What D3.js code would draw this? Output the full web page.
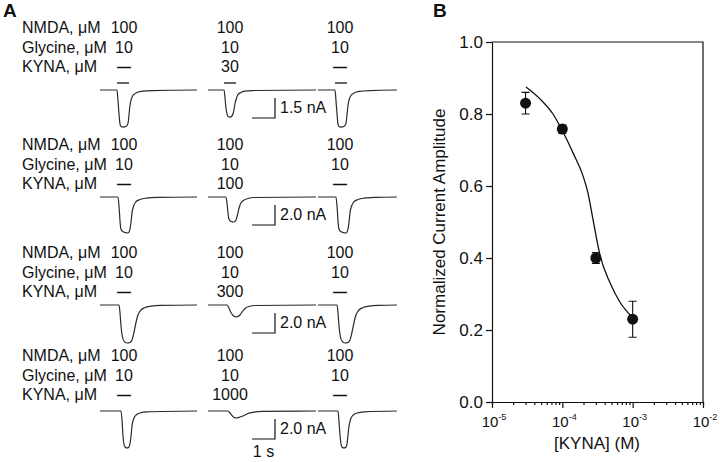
<!DOCTYPE html>
<html><head><meta charset="utf-8">
<script src="https://cdn.jsdelivr.net/npm/d3@7"></script>
<style>html,body{margin:0;padding:0;background:#fff;}svg{display:block;font-family:Arial,"Liberation Sans",Helvetica,sans-serif;}</style>
</head><body>
<svg id="fig" width="720" height="462"></svg>
<script>
// ---------------- Panel A data ----------------
const solutionLabels = ["NMDA, μM", "Glycine, μM", "KYNA, μM"];
const nmdaConc    = [[100,100,100],[100,100,100],[100,100,100],[100,100,100]];
const glycineConc = [[10,10,10],[10,10,10],[10,10,10],[10,10,10]];
const kynaConc    = [[null,30,null],[null,100,null],[null,300,null],[null,1000,null]];
const scaleBarNA  = [1.5, 2.0, 2.0, 2.0];
const scaleBarSec = 1;
const appOnsetSec = [0.74, 0.70, 0.74];   // application bars, first row
const appDurSec   = 0.52;

// traces: [time (s) from sweep start, current (nA)]
const trace_r1c1 = [[0,0],[0.74,0],[0.78,-0.75],[0.83,-1.88],[0.87,-2.55],[0.91,-2.74],[1.00,-2.78],[1.13,-2.74],[1.22,-2.48],[1.26,-1.88],[1.30,-1.20],[1.35,-0.75],[1.43,-0.41],[1.57,-0.23],[1.78,-0.11],[2.26,-0.04],[4.22,0]];
const trace_r1c2 = [[0,0],[0.70,0],[0.74,-0.60],[0.78,-1.35],[0.83,-1.80],[0.87,-1.99],[0.96,-2.03],[1.04,-1.95],[1.11,-1.65],[1.17,-1.05],[1.24,-0.60],[1.30,-0.34],[1.43,-0.19],[1.61,-0.09],[1.91,-0.04],[4.70,0]];
const trace_r1c3 = [[0,0],[0.74,0],[0.78,-0.75],[0.83,-1.88],[0.87,-2.55],[0.91,-2.74],[1.00,-2.78],[1.13,-2.74],[1.22,-2.48],[1.26,-1.88],[1.30,-1.20],[1.35,-0.75],[1.43,-0.41],[1.57,-0.23],[1.78,-0.11],[2.26,-0.04],[3.43,0]];
const trace_r2c1 = [[0,0],[0.78,0],[0.83,-1.0],[0.87,-2.4],[0.91,-3.2],[0.96,-3.4],[1.09,-3.55],[1.22,-3.6],[1.28,-3.4],[1.35,-2.5],[1.39,-1.6],[1.46,-0.9],[1.57,-0.45],[1.74,-0.25],[2.00,-0.12],[2.52,-0.04],[4.22,0]];
const trace_r2c2 = [[0,0],[0.78,0],[0.83,-0.7],[0.87,-1.6],[0.91,-2.2],[1.00,-2.45],[1.13,-2.5],[1.22,-2.3],[1.28,-1.8],[1.35,-1.1],[1.43,-0.6],[1.57,-0.3],[1.74,-0.15],[2.00,-0.05],[4.70,0]];
const trace_r2c3 = [[0,0],[0.78,0],[0.83,-1.0],[0.87,-2.4],[0.91,-3.2],[0.96,-3.4],[1.09,-3.55],[1.22,-3.6],[1.28,-3.4],[1.35,-2.5],[1.39,-1.6],[1.46,-0.9],[1.57,-0.45],[1.74,-0.25],[2.00,-0.12],[2.52,-0.04],[3.43,0]];
const trace_r3c1 = [[0,0],[0.83,0],[0.87,-0.8],[0.91,-2.0],[0.96,-3.0],[1.04,-3.6],[1.17,-3.8],[1.30,-3.75],[1.39,-3.5],[1.48,-2.7],[1.57,-1.7],[1.65,-1.0],[1.78,-0.5],[1.96,-0.25],[2.22,-0.12],[2.65,-0.04],[4.22,0]];
const trace_r3c2 = [[0,0],[0.83,0],[0.91,-0.3],[1.00,-0.75],[1.09,-1.05],[1.22,-1.2],[1.30,-1.15],[1.39,-1.0],[1.48,-0.7],[1.61,-0.35],[1.78,-0.15],[2.04,-0.05],[4.70,0]];
const trace_r3c3 = [[0,0],[0.83,0],[0.87,-0.8],[0.91,-2.0],[0.96,-3.0],[1.04,-3.6],[1.17,-3.8],[1.30,-3.75],[1.39,-3.5],[1.48,-2.7],[1.57,-1.7],[1.65,-1.0],[1.78,-0.5],[1.96,-0.25],[2.22,-0.12],[2.65,-0.04],[3.43,0]];
const trace_r4c1 = [[0,0],[0.91,0],[0.96,-1.0],[1.00,-2.5],[1.04,-3.3],[1.09,-3.6],[1.17,-3.7],[1.26,-3.6],[1.30,-3.3],[1.35,-2.5],[1.39,-1.5],[1.46,-0.8],[1.57,-0.4],[1.74,-0.2],[2.04,-0.08],[4.22,0]];
const trace_r4c2 = [[0,0],[0.87,0],[0.96,-0.2],[1.04,-0.45],[1.13,-0.65],[1.22,-0.7],[1.39,-0.6],[1.57,-0.45],[1.74,-0.25],[2.00,-0.12],[2.35,-0.04],[4.70,0]];
const trace_r4c3 = [[0,0],[0.87,0],[0.91,-1.0],[0.96,-2.5],[1.00,-3.3],[1.04,-3.6],[1.13,-3.7],[1.22,-3.6],[1.26,-3.3],[1.30,-2.5],[1.35,-1.5],[1.42,-0.8],[1.53,-0.4],[1.70,-0.2],[2.00,-0.08],[3.43,0]];
const traces = [[trace_r1c1,trace_r1c2,trace_r1c3],[trace_r2c1,trace_r2c2,trace_r2c3],
                [trace_r3c1,trace_r3c2,trace_r3c3],[trace_r4c1,trace_r4c2,trace_r4c3]];

// ---------------- Panel B data ----------------
const kynaM   = [3e-5, 1e-4, 3e-4, 1e-3];
const ampMean = [0.83, 0.758, 0.40, 0.23];
const ampErr  = [0.03, 0.012, 0.015, 0.05];
const fitLogKyna = [-4.517,-4.318,-4.133,-3.990,-3.848,-3.706,-3.635,-3.578,-3.521,-3.464,-3.322,-3.180,-3.024];
const fitAmp     = [0.875, 0.842, 0.800, 0.750, 0.692, 0.628, 0.580, 0.522, 0.462, 0.408, 0.331, 0.277, 0.239];
const yTicks = [0, 0.2, 0.4, 0.6, 0.8, 1.0];
const xDecadeExp = [-5, -4, -3, -2];

// ---------------- drawing ----------------
const svg = d3.select("#fig");
svg.append("rect").attr("width",720).attr("height",462).attr("fill","#fff");
const ink = "#111", traceInk = "#2a2a2a";

// Panel letters
svg.append("text").attr("x",3).attr("y",17).attr("font-size",19).attr("font-weight","bold").attr("fill",ink).text("A");
svg.append("text").attr("x",433).attr("y",17).attr("font-size",19).attr("font-weight","bold").attr("fill",ink).text("B");

// Panel A layout
const sweepStartX = [100, 208, 318];
const colCenterX  = [124, 230, 340];
const traceBaseY  = [90, 197, 305, 411];
const labelBaseY  = [33, 150, 258, 361];
const rowGap = 19.5;
const pxPerSec = 23, pxPerNA = [13.33, 10, 10, 10];
const fsA = 16;

const line = d3.line().curve(d3.curveMonotoneX);

traces.forEach((row, r) => {
  const y = d3.scaleLinear().domain([0, -1]).range([traceBaseY[r], traceBaseY[r] + pxPerNA[r]]);
  solutionLabels.forEach((lab, k) => {
    svg.append("text").attr("x",22).attr("y",labelBaseY[r] + k*rowGap)
      .attr("font-size",fsA).attr("fill",ink).text(lab);
  });
  const concs = [nmdaConc[r], glycineConc[r], kynaConc[r]];
  concs.forEach((vals, k) => {
    vals.forEach((v, c) => {
      svg.append("text").attr("x",colCenterX[c]).attr("y",labelBaseY[r] + k*rowGap)
        .attr("text-anchor","middle").attr("font-size", v === null ? 14 : fsA).attr("fill",ink)
        .attr("font-weight", v === null ? "bold" : null)
        .text(v === null ? "—" : v);
    });
  });
  row.forEach((tr, c) => {
    const x = d3.scaleLinear().domain([0, 1]).range([sweepStartX[c], sweepStartX[c] + pxPerSec]);
    svg.append("path").attr("d", line.x(d => x(d[0])).y(d => y(d[1]))(tr))
      .attr("fill","none").attr("stroke",traceInk).attr("stroke-width",1.2);
    if (r === 0) {
      svg.append("line").attr("x1",x(appOnsetSec[c])).attr("x2",x(appOnsetSec[c]+appDurSec))
        .attr("y1",traceBaseY[r]-7).attr("y2",traceBaseY[r]-7)
        .attr("stroke",ink).attr("stroke-width",1.3);
    }
  });
  // scale bar
  const sx = d3.scaleLinear().domain([0, 1]).range([252, 252 + pxPerSec]);
  const top = traceBaseY[r] + 8;
  const ys = d3.scaleLinear().domain([0, 1]).range([top, top + pxPerNA[r]]);
  const bottom = ys(scaleBarNA[r]);
  svg.append("path").attr("d", `M${sx(0)},${bottom}H${sx(scaleBarSec)}V${top}`)
    .attr("fill","none").attr("stroke",ink).attr("stroke-width",1.2);
  svg.append("text").attr("x",280).attr("y",top + 15).attr("font-size",fsA).attr("fill",ink)
    .text(scaleBarNA[r].toFixed(1) + " nA");
  if (r === 3) {
    svg.append("text").attr("x",sx(scaleBarSec/2)).attr("y",bottom + 18).attr("text-anchor","middle")
      .attr("font-size",fsA).attr("fill",ink).text(scaleBarSec + " s");
  }
});

// Panel B
const xB = d3.scaleLog().domain([1e-5, 1e-2]).range([492, 703]);
const yB = d3.scaleLinear().domain([0, 1]).range([402, 42]);
const gB = svg.append("g");

const yAxis = d3.axisLeft(yB).tickValues(yTicks).tickFormat(d3.format(".1f")).tickSize(6).tickSizeOuter(0).tickPadding(3);
const gy = gB.append("g").attr("transform",`translate(${xB.range()[0]},0)`).call(yAxis);
gy.selectAll("text").attr("font-size",17).attr("fill",ink).attr("font-family","Arial, 'Liberation Sans', sans-serif");

const minorTicks = xB.ticks();
const xAxis = d3.axisBottom(xB).tickValues(minorTicks).tickFormat("").tickSizeOuter(0).tickSize(3);
const gx = gB.append("g").attr("transform",`translate(0,${yB.range()[0]})`).call(xAxis);
gx.selectAll(".tick line").attr("y2", d => Math.abs(Math.log10(d) - Math.round(Math.log10(d))) < 1e-6 ? 6 : 3);
[gx, gy].forEach(g => { g.selectAll("line,path").attr("stroke",ink).attr("stroke-width",1.2); });

gB.append("path").attr("d",`M${xB.range()[0]},${yB(1)}H${xB.range()[1]}V${yB(0)}`)
  .attr("fill","none").attr("stroke",ink).attr("stroke-width",1.2);

// x tick labels with superscripts
xDecadeExp.forEach(e => {
  const t = gB.append("text").attr("x", xB(Math.pow(10, e)) + 2).attr("y", 427)
    .attr("text-anchor","middle").attr("font-size",15).attr("fill",ink);
  t.append("tspan").text("10");
  t.append("tspan").attr("font-size",9).attr("dy",-7).text("-" + Math.abs(e));
});

// axis titles
gB.append("text").attr("x",597).attr("y",449).attr("text-anchor","middle")
  .attr("font-size",17).attr("fill",ink).text("[KYNA] (M)");
gB.append("text").attr("transform","translate(445,222) rotate(-90)").attr("text-anchor","middle")
  .attr("font-size",17).attr("fill",ink).text("Normalized Current Amplitude");

// fit curve
const fitPts = fitLogKyna.map((lx, i) => [Math.pow(10, lx), fitAmp[i]]);
gB.append("path").attr("d", d3.line().curve(d3.curveMonotoneX).x(d => xB(d[0])).y(d => yB(d[1]))(fitPts))
  .attr("fill","none").attr("stroke",ink).attr("stroke-width",1.3);

// error bars and points
kynaM.forEach((k, i) => {
  const cx = xB(k), lo = yB(ampMean[i] - ampErr[i]), hi = yB(ampMean[i] + ampErr[i]);
  gB.append("path").attr("d",`M${cx},${lo}V${hi}M${cx-4},${lo}H${cx+4}M${cx-4},${hi}H${cx+4}`)
    .attr("fill","none").attr("stroke",ink).attr("stroke-width",1.1);
  gB.append("circle").attr("cx",cx).attr("cy",yB(ampMean[i])).attr("r",5.5).attr("fill",ink);
});
</script>
</body></html>
